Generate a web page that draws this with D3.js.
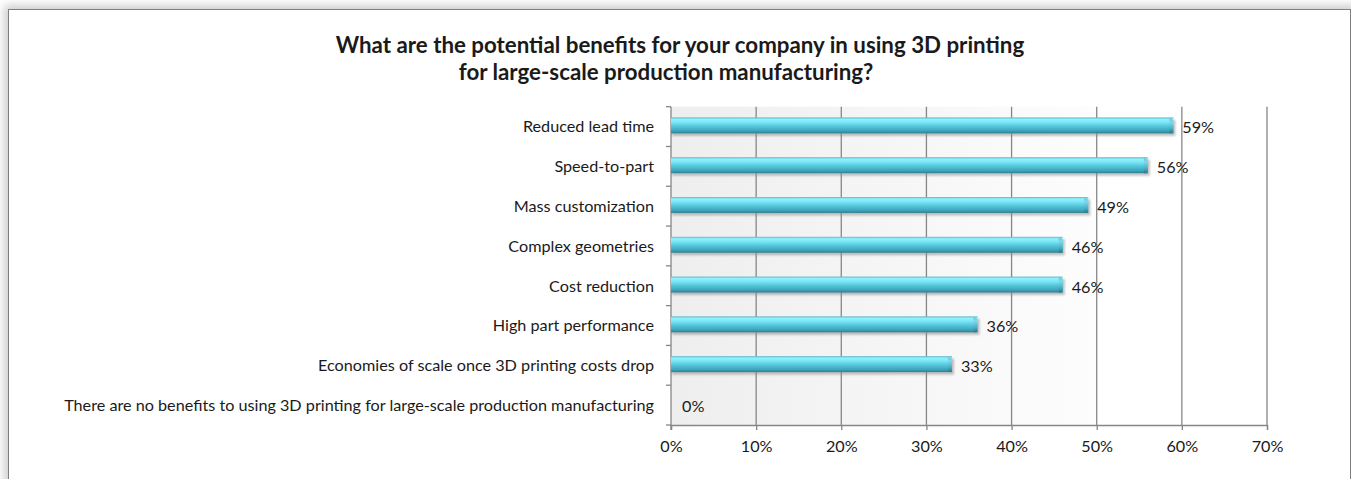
<!DOCTYPE html>
<html>
<head>
<meta charset="utf-8">
<script src="https://cdn.jsdelivr.net/npm/d3@7"></script>
<style>
  html, body { margin: 0; padding: 0; background: #ffffff; }
  svg { display: block; }
  text { font-family: Lato, "Open Sans", sans-serif; fill: #1a1a1a; }
</style>
</head>
<body>
<svg id="chart" width="1351" height="479"></svg>
<script>
// Survey answers, top to bottom
const categories = [
  "Reduced lead time",
  "Speed-to-part",
  "Mass customization",
  "Complex geometries",
  "Cost reduction",
  "High part performance",
  "Economies of scale once 3D printing costs drop",
  "There are no benefits to using 3D printing for large-scale production manufacturing"
];
const values = [59, 56, 49, 46, 46, 36, 33, 0];
const xTicks = [0, 10, 20, 30, 40, 50, 60, 70];
const titleLines = [
  "What are the potential benefits for your company in using 3D printing",
  "for large-scale production manufacturing?"
];

const W = 1351, H = 479;
const plot = { left: 671, right: 1267, top: 106.7, bottom: 425 };
const labelSize = 16.2;

const svg = d3.select("#chart");
const defs = svg.append("defs");

// soft shadow around the chart frame
const frameShadow = defs.append("filter").attr("id", "frameShadow")
  .attr("x", "-5%").attr("y", "-20%").attr("width", "110%").attr("height", "140%");
frameShadow.append("feGaussianBlur").attr("stdDeviation", 4);

// bar body: rounded, shiny cyan
const barGrad = defs.append("linearGradient").attr("id", "barGrad")
  .attr("x1", 0).attr("y1", 0).attr("x2", 0).attr("y2", 1);
[[0, "#5fb4c6"], [0.12, "#8ff3ff"], [0.3, "#7ae6f6"], [0.55, "#55c7dc"],
 [0.85, "#3da3b9"], [1, "#2c7f91"]].forEach(([o, c]) =>
  barGrad.append("stop").attr("offset", o).attr("stop-color", c));

// bar end cap, slightly darker towards the tip
const capGrad = defs.append("linearGradient").attr("id", "capGrad")
  .attr("x1", 0).attr("y1", 0).attr("x2", 0).attr("y2", 1);
[[0, "#6cc3d3"], [0.3, "#7dd9e8"], [0.7, "#4aaec3"], [1, "#2a7788"]].forEach(([o, c]) =>
  capGrad.append("stop").attr("offset", o).attr("stop-color", c));

const barShadow = defs.append("filter").attr("id", "barShadow")
  .attr("x", "-5%").attr("y", "-50%").attr("width", "110%").attr("height", "200%");
barShadow.append("feGaussianBlur").attr("stdDeviation", 1.2);

// plot area background fades from light grey to white
const bgGrad = defs.append("linearGradient").attr("id", "bgGrad")
  .attr("x1", 0).attr("y1", 0).attr("x2", 1).attr("y2", 0);
[[0, "#eeeeee"], [0.8, "#fdfdfd"], [0.8, "#ffffff"], [1, "#ffffff"]].forEach(([o, c]) =>
  bgGrad.append("stop").attr("offset", o).attr("stop-color", c));

// page + frame
svg.append("rect").attr("width", W).attr("height", H).attr("fill", "#ffffff");
svg.append("rect").attr("x", 4).attr("y", 5).attr("width", W + 10).attr("height", H + 20)
  .attr("fill", "#cfcfcf").attr("filter", "url(#frameShadow)");
svg.append("rect").attr("x", 8.5).attr("y", 9.5).attr("width", 1342).attr("height", H + 20)
  .attr("fill", "#ffffff").attr("stroke", "#7f7f7f").attr("stroke-width", 1);

// scales
const x = d3.scaleLinear().domain([0, 70]).range([plot.left, plot.right]);
const y = d3.scaleBand().domain(categories).range([plot.top, plot.bottom])
  .paddingInner(0.6).paddingOuter(0.3).align(0.45);
const band = (plot.bottom - plot.top) / categories.length;

// background
svg.append("rect")
  .attr("x", plot.left).attr("y", plot.top)
  .attr("width", x(60) - plot.left + 20).attr("height", plot.bottom - plot.top)
  .attr("fill", "url(#bgGrad)");

// vertical gridlines
svg.append("g").selectAll("line")
  .data(xTicks.slice(1))
  .join("line")
  .attr("x1", d => x(d)).attr("x2", d => x(d))
  .attr("y1", plot.top).attr("y2", plot.bottom)
  .attr("stroke", "#868686").attr("stroke-width", 1.3);

// x axis
const xAxis = svg.append("g")
  .attr("transform", `translate(0,${plot.bottom})`)
  .call(d3.axisBottom(x).tickValues(xTicks).tickFormat(d => d + "%")
    .tickSize(5).tickPadding(10));
xAxis.select(".domain").attr("stroke", "#868686").attr("stroke-width", 1.3);
xAxis.selectAll(".tick line").attr("stroke", "#868686").attr("stroke-width", 1.3);
xAxis.selectAll(".tick text")
  .attr("font-family", "Lato, sans-serif").attr("font-size", labelSize).attr("fill", "#1a1a1a");

// y axis: ticks sit on the category boundaries
const yEdges = d3.range(categories.length + 1).map(i => plot.top + i * band);
const yAxisG = svg.append("g");
yAxisG.append("line")
  .attr("x1", plot.left).attr("x2", plot.left)
  .attr("y1", plot.top).attr("y2", plot.bottom + 5)
  .attr("stroke", "#868686").attr("stroke-width", 1.3);
yAxisG.selectAll("line.tick").data(yEdges).join("line").attr("class", "tick")
  .attr("x1", plot.left - 5).attr("x2", plot.left)
  .attr("y1", d => d).attr("y2", d => d)
  .attr("stroke", "#868686").attr("stroke-width", 1.3);
yAxisG.selectAll("text").data(categories).join("text")
  .attr("x", plot.left - 17)
  .attr("y", (d, i) => plot.top + (i + 0.5) * band)
  .attr("dy", "0.36em")
  .attr("text-anchor", "end")
  .attr("font-size", labelSize)
  .text(d => d);

// bars
const rows = categories.map((c, i) => ({ c, v: values[i] }));
const bars = svg.append("g").selectAll("g").data(rows.filter(d => d.v > 0)).join("g");
bars.append("rect")
  .attr("x", plot.left + 1).attr("y", d => y(d.c) + 2.5)
  .attr("width", d => x(d.v) - plot.left + 1).attr("height", y.bandwidth())
  .attr("fill", "#8a8a8a").attr("opacity", 0.55).attr("filter", "url(#barShadow)");
bars.append("rect")
  .attr("x", plot.left).attr("y", d => y(d.c))
  .attr("width", d => x(d.v) - plot.left).attr("height", y.bandwidth())
  .attr("fill", "url(#barGrad)");
bars.append("path")
  .attr("d", d => {
    const x1 = x(d.v), y0 = y(d.c), h = y.bandwidth();
    return `M${x1 - 4},${y0} L${x1 - 1},${y0 + 2} L${x1},${y0 + 3} L${x1},${y0 + h - 1} L${x1 - 1},${y0 + h} L${x1 - 4},${y0 + h} Z`;
  })
  .attr("fill", "url(#capGrad)");

// value labels
svg.append("g").selectAll("text").data(rows).join("text")
  .attr("x", d => x(d.v) + (d.v > 0 ? 9 : 11))
  .attr("y", (d, i) => plot.top + (i + 0.5) * band + 1)
  .attr("dy", "0.36em")
  .attr("font-size", labelSize)
  .text(d => d.v + "%");

// title
svg.append("g").selectAll("text").data(titleLines).join("text")
  .attr("x", (d, i) => i === 0 ? 680 : 666)
  .attr("y", (d, i) => 53 + i * 27)
  .attr("text-anchor", "middle")
  .attr("font-size", 22.3)
  .attr("font-weight", "bold")
  .attr("fill", "#000")
  .text(d => d);
</script>
</body>
</html>
